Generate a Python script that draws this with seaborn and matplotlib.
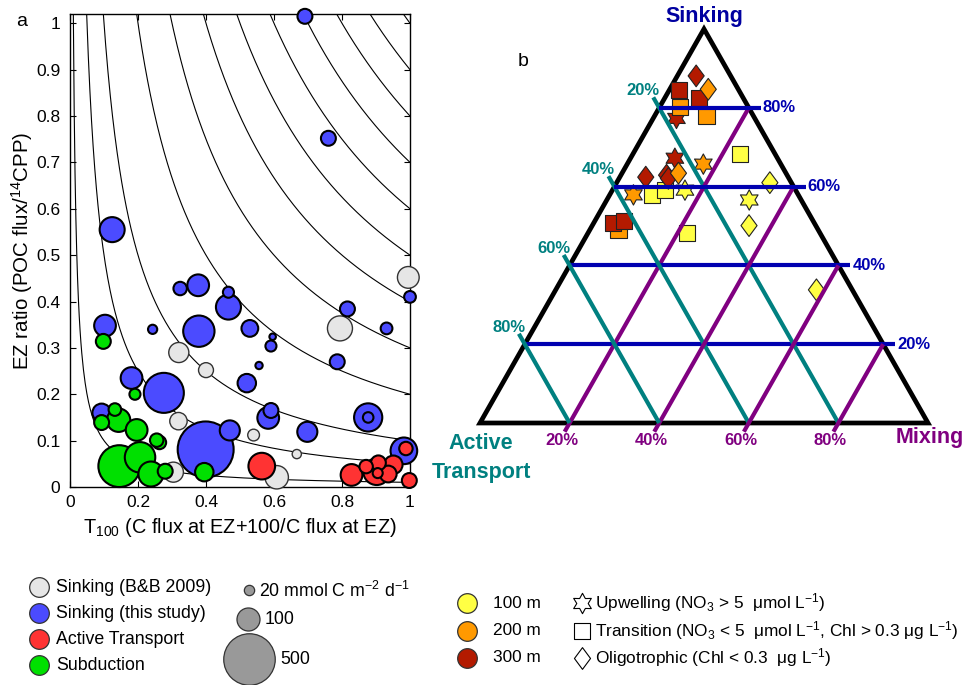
import numpy as np
import pandas as pd
import matplotlib
matplotlib.use("Agg")
import matplotlib.pyplot as plt
from matplotlib.path import Path
import seaborn as sns

sns.set_theme(style="white")
plt.rcParams["font.family"] = ["Liberation Sans", "DejaVu Sans"]
plt.rcParams["mathtext.fontset"] = "custom"
plt.rcParams["mathtext.rm"] = "Liberation Sans"
plt.rcParams["mathtext.it"] = "Liberation Sans:italic"
plt.rcParams["mathtext.bf"] = "Liberation Sans:bold"
plt.rcParams["text.color"] = "black"
plt.rcParams["axes.labelcolor"] = "black"
plt.rcParams["axes.edgecolor"] = "black"
plt.rcParams["xtick.color"] = "black"
plt.rcParams["ytick.color"] = "black"

# ---------------- panel a: T100 vs EZ ratio, bubble area = flux ----------------
bb_x = [0.995, 0.794, 0.320, 0.400, 0.319, 0.540, 0.667, 0.304, 0.608]
bb_y = [0.452, 0.342, 0.290, 0.252, 0.142, 0.112, 0.071, 0.032, 0.021]
bb_flux = [89, 118, 76, 42, 57, 26, 16, 76, 103]

this_x = [0.982, 1.000, 0.816, 0.931, 0.786, 0.877, 0.877, 0.698, 0.583, 0.591,
          0.520, 0.556, 0.591, 0.596, 0.529, 0.466, 0.466, 0.377, 0.324, 0.379,
          0.243, 0.103, 0.181, 0.276, 0.093, 0.399, 0.470, 0.691, 0.760, 0.124]
this_y = [0.078, 0.410, 0.384, 0.342, 0.270, 0.150, 0.150, 0.119, 0.149, 0.165,
          0.224, 0.262, 0.304, 0.324, 0.342, 0.388, 0.420, 0.435, 0.428, 0.336,
          0.340, 0.348, 0.235, 0.203, 0.160, 0.081, 0.122, 1.015, 0.752, 0.555]
this_flux = [134, 26, 42, 26, 42, 150, 21, 76, 89, 42,
             64, 10, 23, 8, 53, 118, 23, 89, 34, 185,
             16, 89, 89, 302, 64, 590, 76, 42, 42, 118]

act_x = [0.564, 0.828, 0.871, 0.902, 0.936, 0.951, 0.907, 0.998, 0.905, 0.988]
act_y = [0.045, 0.026, 0.044, 0.033, 0.028, 0.048, 0.052, 0.014, 0.030, 0.083]
act_flux = [134, 89, 34, 134, 53, 64, 42, 42, 19, 34]

sub_x = [0.098, 0.191, 0.132, 0.093, 0.143, 0.196, 0.255, 0.263, 0.145, 0.206,
         0.238, 0.280, 0.395]
sub_y = [0.314, 0.200, 0.167, 0.139, 0.144, 0.123, 0.101, 0.096, 0.045, 0.064,
         0.028, 0.034, 0.032]
sub_flux = [42, 23, 30, 42, 103, 89, 34, 34, 330, 175, 118, 42, 64]

# iso-lines of EZ ratio x T100
iso_levels = [0.01, 0.05, 0.1, 0.2, 0.3, 0.4, 0.5, 0.6, 0.7, 0.8, 0.9, 1.0]

# ---------------- panel b: ternary partitioning ----------------
tern_sinking = [88.1, 84.7, 84.5, 82.4, 80.1, 77.3, 77.9, 67.2, 65.7, 62.4,
                62.9, 62.1, 63.4, 68.2, 61.0, 57.9, 57.9, 59.1, 59.1, 56.6,
                50.1, 49.0, 50.8, 51.3, 48.3, 33.8]
tern_active = [7.7, 6.7, 13.3, 9.9, 15.3, 17.5, 10.5, 22.9, 17.3, 31.8,
               26.9, 26.9, 24.0, 7.9, 4.8, 36.8, 32.7, 29.1, 24.7, 11.6,
               14.9, 44.6, 45.0, 42.3, 29.7, 8.0]
tern_mixing = [4.2, 8.6, 2.2, 7.7, 4.6, 5.2, 11.6, 9.9, 17.0, 5.8,
               10.2, 11.0, 12.6, 23.9, 34.2, 5.3, 9.4, 11.8, 16.2, 31.8,
               35.0, 6.4, 4.2, 6.4, 22.0, 58.2]
tern_depth = ["300 m", "200 m", "300 m", "300 m", "200 m", "300 m", "200 m", "300 m", "200 m", "300 m",
              "300 m", "300 m", "200 m", "100 m", "100 m", "200 m", "100 m", "100 m", "100 m", "100 m",
              "100 m", "200 m", "300 m", "300 m", "100 m", "100 m"]
tern_regime = ["Oligotrophic", "Oligotrophic", "Transition", "Transition", "Transition",
               "Upwelling", "Transition", "Upwelling", "Upwelling", "Oligotrophic",
               "Oligotrophic", "Oligotrophic", "Oligotrophic", "Transition", "Oligotrophic",
               "Upwelling", "Transition", "Transition", "Upwelling", "Upwelling",
               "Oligotrophic", "Transition", "Transition", "Transition", "Transition",
               "Oligotrophic"]

grid_pct = [20, 40, 60, 80]
depth_levels = ["100 m", "200 m", "300 m"]
depth_colors = {"100 m": "#ffff44", "200 m": "#ff9900", "300 m": "#b31a00"}

C_GRAY, C_BLUE, C_RED, C_GREEN = "#e6e6e6", "#4b4bff", "#ff3333", "#00e000"
C_SINK, C_ACT, C_MIX = "#0000b0", "#008080", "#800080"

W, H = 967, 685
K = 2.75  # marker area (pt^2) per mmol C m-2 d-1
LEG_FS = 12.8
LEG_FS_R = 12.4


def box(l, t, r, b):
    return [l / W, 1 - b / H, (r - l) / W, (b - t) / H]


fig = plt.figure(figsize=(W / 100, H / 100), dpi=100)

ax = fig.add_axes(box(70, 14, 410, 487))
for c in iso_levels:
    xs = np.linspace(c / 1.02, 1, 400)
    ax.plot(xs, c / xs, color="black", lw=0.8, zorder=1)

groups = [
    (bb_x, bb_y, bb_flux, C_GRAY, "#333333", 1.0),
    (this_x, this_y, this_flux, C_BLUE, "black", 1.5),
    (act_x, act_y, act_flux, C_RED, "black", 1.5),
    (sub_x, sub_y, sub_flux, C_GREEN, "black", 1.5),
]
for xs, ys, fl, col, ec, lw in groups:
    df = pd.DataFrame({"x": xs, "y": ys, "flux": fl}).sort_values("flux", ascending=False)
    sns.scatterplot(data=df, x="x", y="y", size="flux", sizes=(0, K * 1000),
                    size_norm=(0, 1000), color=col, edgecolor=ec, linewidth=lw,
                    legend=False, ax=ax, clip_on=False, zorder=3)

ax.set_xlim(0, 1)
ax.set_ylim(0, 1.02)
ax.set_xticks([0, 0.2, 0.4, 0.6, 0.8, 1.0])
ax.set_xticklabels(["0", "0.2", "0.4", "0.6", "0.8", "1"])
ax.set_yticks(np.arange(0, 1.01, 0.1))
ax.set_yticklabels(["0"] + [f"{v:.1f}" for v in np.arange(0.1, 0.95, 0.1)] + ["1"])
ax.tick_params(direction="in", bottom=True, left=True, top=True, right=True,
               length=4, width=0.8, labelsize=12.5)
ax.tick_params(axis="y", pad=7)
ax.tick_params(axis="x", pad=6)
for sp in ax.spines.values():
    sp.set_linewidth(1.0)
    sp.set_color("black")
ax.set_xlabel(r"T$_{100}$ (C flux at EZ+100/C flux at EZ)", fontsize=14.3, labelpad=4)
ax.set_ylabel(r"EZ ratio (POC flux/$^{14}$CPP)", fontsize=14.8, labelpad=1)

# ---------------- ternary ----------------
axb = fig.add_axes(box(440, 0, 967, 500))
PX, PY = 1 / 448, 1 / 394  # one pixel in ternary data units

tern = pd.DataFrame({"S": tern_sinking, "A": tern_active, "M": tern_mixing,
                     "depth": tern_depth, "regime": tern_regime})
tern["x"] = tern["M"] / 100 + tern["S"] / 200
tern["y"] = tern["S"] / 100

star_path = Path.unit_regular_star(6, 0.56)
diamond_path = Path([(0, 1), (0.74, 0), (0, -1), (-0.74, 0), (0, 1)],
                    [Path.MOVETO, Path.LINETO, Path.LINETO, Path.LINETO, Path.CLOSEPOLY])
regime_markers = [("Upwelling", star_path, 215), ("Transition", "s", 135),
                  ("Oligotrophic", diamond_path, 245)]

axb.add_patch(plt.Polygon([(0, 0), (1, 0), (0.5, 1)], closed=True, fill=False,
                          edgecolor="black", lw=3.4, joinstyle="miter", zorder=2))

for reg, mk, s in regime_markers:
    sub = tern[tern["regime"] == reg]
    sns.scatterplot(data=sub, x="x", y="y", hue="depth", hue_order=depth_levels,
                    palette=depth_colors, marker=mk, s=s, edgecolor="#222222",
                    linewidth=0.8, legend=False, ax=axb, zorder=3)

# ternary grid lines with percentage labels
ext_dx, ext_dy = 224 / 453, 394 / 453
for p in grid_pct:
    f = p / 100
    # sinking: horizontal
    x0, x1 = f / 2, 1 - f / 2 + 12 * PX
    axb.plot([x0, x1], [f, f], color=C_SINK, lw=3.0, solid_capstyle="butt", zorder=4)
    axb.text(x1 + 2 * PX, f, f"{p}%", color=C_SINK, fontsize=12, fontweight="bold",
             ha="left", va="center")
    # active transport: parallel to the sinking-mixing edge
    s_top = 1 - f
    tx, ty = s_top / 2 - 12 * ext_dx * PX, s_top + 12 * ext_dy * PY
    axb.plot([tx, 1 - f], [ty, 0], color=C_ACT, lw=3.0, solid_capstyle="butt", zorder=4)
    axb.text(tx - 10 * PX, ty - 1 * PY, f"{p}%", color=C_ACT, fontsize=12,
             fontweight="bold", ha="center", va="bottom")
    # mixing: parallel to the sinking-active edge
    bx, by = f - 10 * ext_dx * PX, -10 * ext_dy * PY
    axb.plot([bx, f + (1 - f) / 2], [by, 1 - f], color=C_MIX, lw=3.0,
             solid_capstyle="butt", zorder=4)
    axb.text(bx - 3 * PX, by - 1 * PY, f"{p}%", color=C_MIX, fontsize=12,
             fontweight="bold", ha="center", va="top")

axb.text(0.5, 1 + 12 * PY, "Sinking", color="#0000a0", fontsize=15.5,
         fontweight="bold", ha="center", va="center")
axb.text(1 * PX, -35 * PY, "Active\nTransport", color=C_ACT, fontsize=15.5,
         fontweight="bold", ha="center", va="center", linespacing=1.55)
axb.text(1 + 2 * PX, -15 * PY, "Mixing", color=C_MIX, fontsize=15.5,
         fontweight="bold", ha="center", va="center")

axb.set_xlim(-40 * PX, 487 * PX)
axb.set_ylim(-77 * PY, 423 * PY)
axb.axis("off")

fig.text(22 / W, 1 - 22 / H, "a", fontsize=14, ha="center", va="center")
fig.text(523 / W, 1 - 62 / H, "b", fontsize=14, ha="center", va="center")

# ---------------- legends ----------------
axl = fig.add_axes([0, 0, 1, 125 / H])
axl.set_xlim(0, W)
axl.set_ylim(H, H - 125)
axl.axis("off")

group_labels = ["Sinking (B&B 2009)", "Sinking (this study)", "Active Transport", "Subduction"]
group_colors = [C_GRAY, C_BLUE, C_RED, C_GREEN]
for i, (lab, col) in enumerate(zip(group_labels, group_colors)):
    y = 587 + 26 * i
    axl.scatter([39], [y], s=200, color=col, edgecolor="#333333", linewidth=0.9, clip_on=False)
    axl.text(56, y, lab, fontsize=LEG_FS, va="center", ha="left")

size_keys = [20, 100, 500]
size_pos = [(249, 590), (248, 619), (249, 659)]
size_text = [("20 mmol C m$^{-2}$ d$^{-1}$", 259), ("100", 265), ("500", 280)]
for v, (x, y), (t, tx) in zip(size_keys, size_pos, size_text):
    axl.scatter([x], [y], s=K * v, color="#999999", edgecolor="#333333", linewidth=0.9,
                clip_on=False)
    axl.text(tx, y + 1, t, fontsize=LEG_FS, va="center", ha="left")

for i, d in enumerate(depth_levels):
    y = 603 + 27.5 * i
    axl.scatter([467], [y], s=200, color=depth_colors[d], edgecolor="#333333",
                linewidth=0.9, clip_on=False)
    axl.text(493, y, d, fontsize=LEG_FS_R, va="center", ha="left")

regime_text = [r"Upwelling (NO$_3$ > 5  μmol L$^{-1}$)",
               r"Transition (NO$_3$ < 5  μmol L$^{-1}$, Chl > 0.3 μg L$^{-1}$)",
               r"Oligotrophic (Chl < 0.3  μg L$^{-1}$)"]
for i, ((reg, mk, s), t) in enumerate(zip(regime_markers, regime_text)):
    y = 603 + 27.5 * i
    axl.scatter([582], [y], s=s, marker=mk, color="white", edgecolor="black",
                linewidth=0.8, clip_on=False)
    axl.text(595, y, t, fontsize=LEG_FS_R, va="center", ha="left")

fig.savefig("out.png", dpi=100)
